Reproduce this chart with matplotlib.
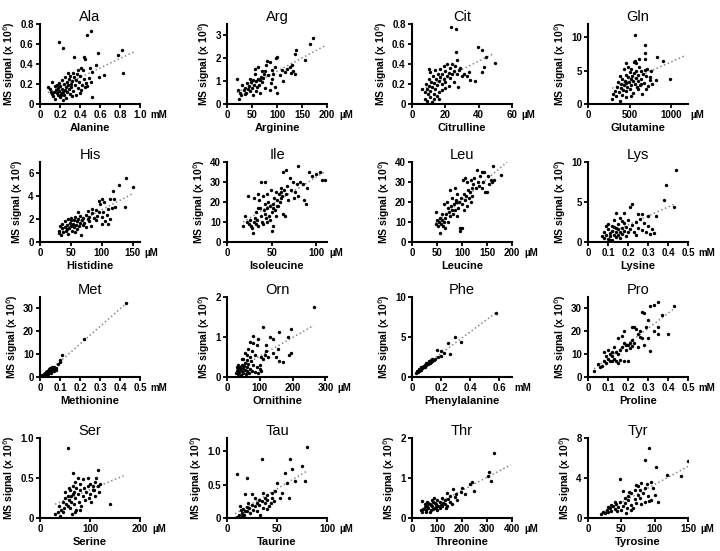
import numpy as np
import matplotlib
matplotlib.use('Agg')
from matplotlib import pyplot as plt

plt.rcParams['font.family'] = ['Liberation Sans', 'DejaVu Sans']

# ---- data (x = concentration, y = MS signal x 10^6) ----
ala_x = [0.19, 0.23, 0.47, 0.51, 0.44, 0.34, 0.58, 0.78, 0.82, 0.83, 0.64, 0.52, 0.56, 0.59, 0.45, 0.41, 0.43, 0.50, 0.52, 0.49, 0.51, 0.45, 0.41,
         0.08, 0.10, 0.12, 0.12, 0.13, 0.14, 0.15, 0.16, 0.17, 0.18, 0.18, 0.19, 0.19, 0.20, 0.20, 0.21, 0.22, 0.22, 0.23, 0.23, 0.24, 0.24, 0.25, 0.25,
         0.26, 0.26, 0.27, 0.27, 0.28, 0.28, 0.29, 0.29, 0.30, 0.30, 0.31, 0.31, 0.32, 0.33, 0.33, 0.34, 0.35, 0.36, 0.37, 0.38, 0.38, 0.39, 0.40, 0.40,
         0.42, 0.44, 0.46, 0.47, 0.36, 0.32, 0.21, 0.17, 0.15, 0.11]
ala_y = [0.62, 0.56, 0.69, 0.73, 0.47, 0.47, 0.51, 0.49, 0.54, 0.31, 0.29, 0.07, 0.39, 0.27, 0.45, 0.36, 0.34, 0.36, 0.32, 0.26, 0.22, 0.17, 0.14,
         0.17, 0.15, 0.22, 0.10, 0.08, 0.12, 0.05, 0.14, 0.11, 0.16, 0.09, 0.21, 0.13, 0.07, 0.18, 0.11, 0.24, 0.15, 0.04, 0.12, 0.20, 0.09, 0.14, 0.27,
         0.17, 0.06, 0.22, 0.12, 0.31, 0.19, 0.15, 0.25, 0.10, 0.28, 0.20, 0.17, 0.23, 0.13, 0.31, 0.27, 0.19, 0.24, 0.30, 0.16, 0.34, 0.22, 0.11, 0.28,
         0.19, 0.25, 0.21, 0.18, 0.09, 0.08, 0.09, 0.19, 0.18, 0.12]

arg_x = [172, 166, 155, 137, 135, 130, 132, 128, 135, 125, 120, 115, 112, 105, 100, 97, 95, 92, 90, 88, 85, 80, 78, 76, 74, 72, 70, 68, 66, 64,
         62, 60, 58, 56, 55, 54, 52, 50, 48, 46, 45, 44, 42, 40, 38, 36, 35, 33, 30, 28, 25, 24, 22, 20, 65, 75, 85, 95, 100, 110, 62, 70, 82, 90,
         58, 52]
arg_y = [2.88, 2.62, 1.92, 2.38, 2.2, 1.7, 1.45, 1.35, 1.3, 1.6, 1.55, 1.4, 1.0, 1.25, 2.05, 2.0, 1.6, 1.3, 1.1, 0.9, 1.85, 1.9, 1.7, 1.45, 1.3,
         1.15, 0.95, 1.2, 1.05, 0.85, 1.1, 0.75, 1.0, 1.55, 1.3, 0.85, 1.05, 0.7, 0.95, 1.1, 0.55, 0.8, 0.65, 0.9, 0.5, 0.7, 0.45, 0.6, 0.85, 0.4,
         0.5, 0.2, 0.6, 1.1, 0.5, 0.7, 0.6, 0.75, 0.5, 1.5, 1.6, 1.45, 1.25, 1.5, 0.55, 0.4]

cit_x = [23.4, 26.4, 26.6, 39.4, 42, 44.6, 50, 42, 43, 27, 27.4, 38, 33, 34, 35,
         6, 8, 8, 8.5, 9, 9, 9.5, 10, 10, 10.5, 11, 11, 11.5, 12, 12, 12.5, 13, 13, 14, 14, 14.5, 15, 15.5, 16, 16, 17, 17, 18, 18, 19, 19, 20, 20,
         21, 21, 22, 22, 23, 23, 24, 25, 25, 26, 27, 28, 29, 30, 31, 13, 15, 18, 24, 20, 10, 16]
cit_y = [0.77, 0.75, 0.52, 0.57, 0.54, 0.47, 0.41, 0.32, 0.37, 0.44, 0.17, 0.23, 0.28, 0.32, 0.24,
         0.15, 0.05, 0.12, 0.2, 0.03, 0.15, 0.1, 0.18, 0.25, 0.07, 0.13, 0.32, 0.22, 0.02, 0.17, 0.28, 0.1, 0.21, 0.15, 0.34, 0.25, 0.19, 0.3, 0.12,
         0.23, 0.27, 0.35, 0.2, 0.3, 0.25, 0.38, 0.22, 0.33, 0.28, 0.4, 0.18, 0.31, 0.26, 0.36, 0.3, 0.33, 0.22, 0.38, 0.3, 0.34, 0.36, 0.28, 0.3,
         0.05, 0.08, 0.14, 0.4, 0.16, 0.35, 0.05]

gln_x = [560, 688, 688, 828, 900, 688, 556, 608, 988, 820, 748, 756, 708,
         290, 300, 320, 330, 350, 360, 370, 380, 390, 400, 410, 410, 420, 430, 430, 440, 450, 450, 460, 460, 470, 480, 480, 490, 500, 500, 510,
         520, 520, 530, 540, 540, 550, 560, 560, 570, 580, 590, 600, 600, 610, 620, 630, 640, 650, 660, 670, 680, 700, 720, 740, 770, 380, 460,
         520, 600, 700, 630, 580]
gln_y = [10.3, 8.9, 7.6, 7.1, 6.5, 6.7, 6.3, 5.6, 3.8, 3.6, 4.0, 4.9, 5.2,
         0.8, 1.5, 2.0, 1.2, 2.6, 3.3, 1.8, 4.2, 2.4, 3.0, 1.3, 3.8, 2.1, 5.2, 2.8, 3.5, 4.4, 1.9, 6.1, 3.1, 2.5, 4.0, 5.6, 3.3, 2.2, 4.8, 3.7,
         2.9, 5.3, 4.2, 3.4, 1.7, 4.6, 3.0, 6.4, 3.9, 5.0, 2.6, 4.3, 3.5, 6.8, 2.9, 4.9, 3.7, 1.5, 4.5, 3.2, 5.1, 4.2, 2.7, 3.6, 3.0, 0.5, 1.0,
         1.2, 2.2, 2.3, 3.0, 6.2]

his_x = [30, 30, 32, 34, 35, 36, 38, 40, 40, 42, 43, 45, 45, 47, 48, 50, 50, 52, 53, 55, 55, 57, 58, 60, 60, 62, 63, 65, 65, 67, 68, 70, 70,
         72, 74, 75, 77, 80, 80, 82, 85, 87, 90, 90, 92, 95, 96, 98, 100, 100, 102, 104, 106, 108, 110, 110, 113, 116, 118, 120, 113, 100, 85,
         78, 62, 50, 57, 43, 122, 137, 140, 128, 150]
his_y = [0.8, 1.0, 1.4, 0.6, 1.2, 1.6, 0.9, 1.3, 1.8, 1.0, 1.5, 2.0, 0.7, 1.2, 1.7, 1.4, 2.1, 1.0, 1.6, 1.9, 1.3, 2.2, 1.5, 1.8, 1.1, 2.0,
         1.4, 1.7, 2.3, 0.6, 1.9, 1.5, 2.1, 1.7, 2.4, 1.3, 2.0, 1.8, 2.2, 1.4, 2.5, 2.1, 2.8, 1.9, 2.3, 2.6, 3.6, 3.3, 2.2, 1.6, 2.6, 3.5, 1.8,
         2.4, 2.9, 1.6, 3.8, 3.0, 4.5, 3.8, 2.0, 3.8, 2.9, 2.7, 2.6, 1.9, 0.9, 1.1, 3.1, 3.1, 5.6, 5.0, 4.85]

ile_x = [18, 20, 22, 24, 25, 26, 27, 28, 29, 30, 30, 31, 32, 33, 34, 35, 35, 36, 37, 38, 38, 39, 40, 40, 41, 42, 43, 44, 45, 45, 46, 47, 48,
         48, 49, 50, 50, 51, 52, 52, 53, 54, 55, 55, 56, 57, 58, 59, 60, 60, 61, 62, 63, 63, 64, 65, 66, 66, 67, 68, 70, 72, 74, 75, 76, 78, 80,
         80, 82, 85, 86, 88, 90, 92, 95, 100, 104, 106, 110, 35, 45, 56, 42]
ile_y = [8, 13, 10, 23, 9, 11, 8, 7, 4.5, 22, 10, 12, 15, 9, 11, 24, 8, 21, 17, 30, 13, 10, 23, 9, 16, 19, 14, 12, 24, 17, 20, 13, 18, 11, 26,
         15, 5.5, 19, 17, 8, 22, 16, 25, 13, 21, 18, 24, 20, 27, 22, 25, 23, 35, 14, 26, 13, 36, 24, 28, 21, 32, 26, 30, 22, 25, 29, 38, 23, 30,
         29, 21, 19, 27, 35, 33, 34, 35, 31, 31, 17, 10, 18, 30]

leu_x = [47, 48, 50, 52, 54, 55, 56, 58, 60, 62, 63, 65, 66, 68, 70, 72, 74, 75, 76, 78, 79, 80, 82, 84, 85, 86, 88, 90, 90, 92, 94, 95, 96,
         98, 100, 100, 102, 103, 104, 106, 108, 110, 110, 112, 114, 115, 118, 120, 120, 122, 125, 128, 130, 132, 135, 136, 140, 140, 142, 145,
         147, 150, 152, 155, 158, 160, 163, 165, 178, 105, 118, 88, 72, 60, 64]
leu_y = [15, 9, 11, 8, 10, 4.5, 12, 9, 11, 8, 10, 7, 12, 14, 20, 17, 15, 26, 13, 18, 16, 22, 14, 19, 16, 27, 21, 13, 24, 17, 20, 5.5, 7, 22,
         7, 19, 31, 24, 16, 21, 23, 18, 30, 26, 22, 25, 20, 27, 23, 29, 32, 27, 36, 30, 28, 33, 35, 27, 30, 35, 25, 25, 33, 29, 31, 30, 38, 31,
         33.5, 32, 31, 20, 10, 14, 19]

lys_x = [0.07, 0.08, 0.08, 0.09, 0.09, 0.1, 0.1, 0.1, 0.11, 0.11, 0.12, 0.12, 0.13, 0.13, 0.13, 0.14, 0.14, 0.14, 0.15, 0.15, 0.15, 0.16,
         0.16, 0.16, 0.17, 0.17, 0.18, 0.18, 0.18, 0.19, 0.19, 0.2, 0.2, 0.21, 0.21, 0.22, 0.22, 0.23, 0.24, 0.24, 0.25, 0.25, 0.26, 0.27, 0.27,
         0.28, 0.29, 0.3, 0.3, 0.31, 0.32, 0.33, 0.34, 0.38, 0.39, 0.43, 0.44, 0.12, 0.14, 0.17, 0.11]
lys_y = [0.8, 1.2, 0.5, 2.0, 0.9, 1.6, 0.4, 2.3, 1.1, 0.7, 1.4, 0.3, 1.9, 0.9, 2.8, 1.2, 0.6, 3.6, 1.6, 0.9, 2.2, 1.3, 0.5, 3.0, 1.8, 1.0,
         2.4, 1.4, 3.6, 0.8, 1.9, 1.2, 2.7, 4.4, 1.6, 4.7, 2.1, 1.3, 2.5, 0.9, 1.8, 3.5, 2.9, 1.5, 3.5, 2.4, 1.2, 2.0, 3.2, 1.0, 1.6, 1.1, 3.3,
         5.2, 7.1, 4.4, 9.0, 2.0, 1.8, 2.6, 0.2]

met_x = [0.43, 0.22, 0.11, 0.1, 0.1, 0.09, 0.08, 0.075, 0.07, 0.065, 0.06, 0.055, 0.05, 0.045, 0.04, 0.035, 0.03, 0.03, 0.025, 0.02, 0.02,
         0.015, 0.01, 0.01, 0.005, 0.05, 0.06, 0.07, 0.08, 0.045, 0.04, 0.055, 0.035, 0.065, 0.025]
met_y = [32.5, 16.5, 9.5, 7.5, 6.5, 5.5, 4, 3.5, 4.2, 3, 3.8, 2.5, 3.2, 2.0, 2.7, 1.5, 2.2, 1.0, 1.8, 0.8, 1.3, 0.6, 0.4, 0.9, 0.2, 4, 4.5,
         2.8, 3, 3.5, 1.2, 1.8, 2.8, 4, 1.0]

orn_x = [265, 195, 185, 160, 140, 110, 78, 70, 95, 130, 155, 195, 190, 160, 170, 120, 105, 100, 90, 80, 75, 70, 65, 60, 55, 50, 45, 40, 35,
         30, 28, 30, 33, 35, 38, 40, 42, 45, 48, 50, 52, 55, 58, 60, 62, 65, 68, 70, 72, 75, 80, 85, 90, 95, 100, 105, 110, 115, 125, 140, 150,
         60, 45, 55, 85, 120]
orn_y = [1.75, 1.2, 1.0, 1.12, 0.95, 1.25, 1.02, 0.88, 0.95, 1.0, 0.7, 0.6, 0.55, 0.4, 0.38, 0.65, 0.5, 0.3, 0.8, 0.85, 0.65, 0.5, 0.7, 0.55,
         0.35, 0.45, 0.3, 0.25, 0.2, 0.15, 0.1, 0.25, 0.08, 0.3, 0.12, 0.2, 0.05, 0.15, 0.22, 0.1, 0.28, 0.18, 0.08, 0.25, 0.15, 0.32, 0.1, 0.2,
         0.4, 0.15, 0.3, 0.12, 0.25, 0.1, 0.2, 0.15, 0.45, 0.55, 0.5, 0.6, 0.5, 0.42, 0.45, 0.6, 0.55, 0.8]

phe_x = [0.58, 0.34, 0.3, 0.26, 0.25, 0.22, 0.2, 0.18, 0.17, 0.16, 0.15, 0.14, 0.13, 0.12, 0.12, 0.11, 0.11, 0.1, 0.1, 0.09, 0.09, 0.08,
         0.08, 0.07, 0.07, 0.06, 0.06, 0.05, 0.05, 0.04, 0.04, 0.03, 0.035, 0.045, 0.055, 0.065, 0.075, 0.085, 0.095, 0.105, 0.125, 0.14, 0.2,
         0.13]
phe_y = [8.0, 4.4, 5.0, 2.9, 4.2, 3.0, 2.6, 2.5, 3.4, 2.3, 2.1, 2.0, 1.9, 1.7, 2.0, 1.6, 1.8, 1.5, 1.7, 1.3, 1.5, 1.2, 1.4, 1.1, 1.3, 0.9,
         1.1, 0.8, 1.0, 0.6, 0.8, 0.5, 0.7, 0.9, 1.0, 1.2, 1.3, 1.4, 1.6, 1.8, 1.8, 2.2, 3.2, 2.1]

pro_x = [0.35, 0.43, 0.33, 0.31, 0.27, 0.28, 0.29, 0.35, 0.35, 0.4, 0.31, 0.22, 0.23, 0.24, 0.26, 0.25, 0.27, 0.3, 0.28, 0.25, 0.23, 0.22,
         0.2, 0.19, 0.18, 0.18, 0.17, 0.16, 0.15, 0.15, 0.14, 0.13, 0.12, 0.12, 0.11, 0.1, 0.1, 0.09, 0.09, 0.08, 0.08, 0.07, 0.06, 0.05, 0.03,
         0.14, 0.16, 0.18, 0.2, 0.21, 0.22, 0.12, 0.13, 0.11, 0.17, 0.19, 0.21, 0.33, 0.37, 0.3, 0.15, 0.26]
pro_y = [33, 31, 31.5, 31, 28.5, 28, 22, 22, 19, 19, 11.5, 22, 22, 21, 20, 19, 17, 17, 14, 13, 15, 13.5, 14, 12, 20, 15, 18, 12, 17, 10, 11,
         13, 9, 11, 7, 12, 8, 9, 6, 11, 7, 5, 4.5, 5.5, 2.5, 7, 7.5, 7, 7, 15, 16, 7, 8, 10, 13, 14, 12.5, 20, 27, 25, 6, 17.5]

ser_x = [55, 115, 140, 65, 110, 100, 105, 108, 112, 95, 85, 80, 75, 70, 72, 68, 65, 62, 60, 58, 55, 52, 50, 48, 45, 42, 40, 38, 35, 30, 45,
         50, 55, 58, 60, 62, 65, 68, 70, 72, 75, 78, 80, 82, 85, 88, 90, 92, 95, 98, 100, 102, 105, 110, 115, 120, 118, 63, 70, 80]
ser_y = [0.88, 0.6, 0.17, 0.56, 0.45, 0.43, 0.4, 0.35, 0.5, 0.5, 0.49, 0.42, 0.5, 0.45, 0.38, 0.33, 0.3, 0.27, 0.35, 0.22, 0.28, 0.18, 0.32,
         0.12, 0.2, 0.1, 0.03, 0.15, 0.07, 0.05, 0.08, 0.25, 0.15, 0.38, 0.12, 0.2, 0.4, 0.18, 0.25, 0.1, 0.3, 0.2, 0.35, 0.15, 0.28, 0.38, 0.22,
         0.33, 0.4, 0.25, 0.3, 0.2, 0.35, 0.28, 0.4, 0.43, 0.33, 0.05, 0.08, 0.1]

tau_x = [80, 63, 35, 10, 20, 65, 75, 78, 58, 60, 68, 62, 50, 48, 45, 40, 36, 25, 18, 53, 45, 40, 38, 35, 32, 30, 28, 25, 22, 20, 18, 16, 15,
         14, 12, 10, 8, 13, 17, 20, 23, 26, 30, 33, 36, 42, 44, 47, 28, 32, 38, 21, 15, 40, 55]
tau_y = [1.07, 0.88, 0.88, 0.66, 0.6, 0.73, 0.78, 0.55, 0.67, 0.52, 0.55, 0.3, 0.52, 0.4, 0.37, 0.35, 0.37, 0.36, 0.36, 0.3, 0.3, 0.27, 0.22,
         0.25, 0.2, 0.22, 0.18, 0.2, 0.15, 0.17, 0.1, 0.14, 0.08, 0.12, 0.05, 0.02, 0.0, 0.18, 0.05, 0.1, 0.08, 0.12, 0.1, 0.05, 0.15, 0.18, 0.22,
         0.25, 0.3, 0.27, 0.3, 0.23, 0.03, 0.13, 0.37]

thr_x = [330, 310, 305, 315, 250, 240, 230, 200, 195, 175, 165, 150, 140, 130, 120, 120, 110, 105, 100, 95, 90, 88, 85, 80, 75, 70, 65, 60,
         55, 50, 45, 40, 38, 35, 60, 70, 80, 90, 100, 110, 130, 140, 150, 160, 180, 210, 50, 65, 75, 95, 125, 135, 170, 145, 115, 55, 85]
thr_y = [1.62, 1.15, 1.05, 0.92, 0.68, 0.9, 0.85, 0.75, 0.65, 0.6, 0.72, 0.55, 0.62, 0.45, 0.5, 0.3, 0.4, 0.3, 0.45, 0.35, 0.25, 0.5, 0.4,
         0.3, 0.2, 0.35, 0.25, 0.3, 0.2, 0.28, 0.22, 0.15, 0.42, 0.2, 0.4, 0.15, 0.45, 0.38, 0.2, 0.25, 0.35, 0.3, 0.4, 0.35, 0.45, 0.6, 0.35,
         0.38, 0.32, 0.28, 0.38, 0.25, 0.52, 0.48, 0.33, 0.15, 0.22]

tyr_x = [92, 86, 102, 150, 118, 140, 48, 52, 60, 65, 70, 72, 75, 78, 80, 85, 88, 90, 95, 98, 100, 95, 85, 80, 78, 70, 65, 60, 58, 55, 52,
         50, 48, 45, 42, 40, 38, 35, 33, 30, 28, 25, 22, 20, 30, 35, 40, 44, 55, 62, 68, 72, 75, 82, 92, 105, 57, 65]
tyr_y = [7.0, 5.8, 5.1, 5.7, 4.3, 4.2, 3.9, 2.7, 2.2, 2.5, 2.8, 3.3, 3.2, 2.8, 3.5, 3.0, 3.4, 2.2, 3.6, 3.0, 2.3, 1.8, 1.6, 1.4, 2.0, 1.9,
         1.3, 1.8, 1.0, 1.5, 1.2, 0.8, 1.6, 1.1, 1.4, 0.9, 1.2, 0.7, 1.0, 0.6, 0.8, 0.5, 0.6, 0.45, 1.1, 1.3, 1.6, 0.7, 2.0, 2.6, 1.0, 1.5, 2.3,
         2.5, 1.7, 1.6, 0.5, 0.8]

titles = ['Ala', 'Arg', 'Cit', 'Gln', 'His', 'Ile', 'Leu', 'Lys',
          'Met', 'Orn', 'Phe', 'Pro', 'Ser', 'Tau', 'Thr', 'Tyr']
names = ['Alanine', 'Arginine', 'Citrulline', 'Glutamine', 'Histidine', 'Isoleucine', 'Leucine', 'Lysine',
         'Methionine', 'Ornithine', 'Phenylalanine', 'Proline', 'Serine', 'Taurine', 'Threonine', 'Tyrosine']
units = ['mM', '\u00b5M', '\u00b5M', '\u00b5M', '\u00b5M', '\u00b5M', '\u00b5M', 'mM',
         'mM', '\u00b5M', 'mM', 'mM', '\u00b5M', '\u00b5M', '\u00b5M', '\u00b5M']
xs = [ala_x, arg_x, cit_x, gln_x, his_x, ile_x, leu_x, lys_x, met_x, orn_x, phe_x, pro_x, ser_x, tau_x, thr_x, tyr_x]
ys = [ala_y, arg_y, cit_y, gln_y, his_y, ile_y, leu_y, lys_y, met_y, orn_y, phe_y, pro_y, ser_y, tau_y, thr_y, tyr_y]

xticks = [[0, 0.2, 0.4, 0.6, 0.8, 1.0], [0, 50, 100, 150, 200], [0, 20, 40, 60], [0, 500, 1000],
          [0, 50, 100, 150], [0, 50, 100], [0, 50, 100, 150, 200], [0, 0.1, 0.2, 0.3, 0.4, 0.5],
          [0, 0.1, 0.2, 0.3, 0.4, 0.5], [0, 100, 200, 300], [0, 0.2, 0.4, 0.6], [0, 0.1, 0.2, 0.3, 0.4, 0.5],
          [0, 100, 200], [0, 50, 100], [0, 100, 200, 300, 400], [0, 50, 100, 150]]
yticks = [[0, 0.2, 0.4, 0.6, 0.8], [0, 1, 2, 3], [0, 0.2, 0.4, 0.6, 0.8], [0, 5, 10],
          [0, 2, 4, 6], [0, 10, 20, 30, 40], [0, 10, 20, 30, 40], [0, 5, 10],
          [0, 10, 20, 30], [0, 1, 2], [0, 5, 10], [0, 10, 20, 30],
          [0, 0.5, 1.0], [0, 0.5, 1.0], [0, 1, 2], [0, 4, 8]]
xmax = [1.0, 200, 60, 1200, 162, 112, 200, 0.5, 0.5, 305, 0.69, 0.5, 200, 100, 400, 150]
ymax = [0.8, 3.5, 0.8, 12, 7, 40, 40, 10, 35, 2, 10, 35, 1.0, 1.2, 2, 8]
# end of the dotted fit line
fit_end = [0.95, 198, 49, 1170, 150, 110, 190, 0.44, 0.43, 265, 0.58, 0.43, 167, 80, 395, 150]

# layout (pixels of the 720x551 picture)
col_left = [40, 227, 412, 588]
row_bottom = [104, 242, 377, 518]


def fmt(v, ticks):
    if v == 0:
        return '0'
    if all(float(t).is_integer() for t in ticks):
        return str(int(v))
    return '%.1f' % v


fig = plt.figure(figsize=(7.2, 5.51), dpi=100)
axes = []

for i in range(16):
    r, c = divmod(i, 4)
    ax = fig.add_axes([col_left[c] / 720, 1 - row_bottom[r] / 551, 100 / 720, 80 / 551])
    axes.append(ax)
    x = np.array(xs[i])
    y = np.array(ys[i])
    ax.scatter(x, y, s=6, color='black', zorder=3, linewidths=0)
    k, b = np.polyfit(x, y, 1)
    lx = np.array([x.min(), fit_end[i]])
    ax.plot(lx, k * lx + b, linestyle=':', color='#888888', linewidth=1.1, zorder=2)

    ax.set_xlim(0, xmax[i])
    ax.set_ylim(0, ymax[i])
    ax.set_xticks(xticks[i])
    ax.set_xticklabels([fmt(v, xticks[i]) for v in xticks[i]])
    ax.set_yticks(yticks[i])
    ax.set_yticklabels([fmt(v, yticks[i]) for v in yticks[i]])
    for side in ['top', 'right']:
        ax.spines[side].set_visible(False)
    for side in ['left', 'bottom']:
        ax.spines[side].set_linewidth(1.5)
    ax.tick_params(direction='out', length=3, width=1.3, labelsize=7, pad=1.5)
    for lab in ax.get_xticklabels() + ax.get_yticklabels():
        lab.set_fontweight('bold')

    ax.set_title(titles[i], fontsize=10.5, pad=1)
    ax.set_xlabel(names[i], fontsize=8, fontweight='bold', labelpad=2)
    ax.set_ylabel('MS signal (x 10$^6$)', fontsize=7.5, fontweight='bold', labelpad=2)

# unit text right after the last x tick label (or the axis end, whichever is further)
fig.canvas.draw()
renderer = fig.canvas.get_renderer()
for i, ax in enumerate(axes):
    last = ax.get_xticklabels()[-1].get_window_extent(renderer)
    axbox = ax.get_window_extent(renderer)
    left_px = max(last.x1 + 4, axbox.x1 + 2)
    yc = (last.y0 + last.y1) / 2
    fx, fy = fig.transFigure.inverted().transform((left_px, yc))
    fig.text(fx, fy, units[i], ha='left', va='center', fontsize=7, fontweight='bold')

fig.savefig('out.png', dpi=100)
